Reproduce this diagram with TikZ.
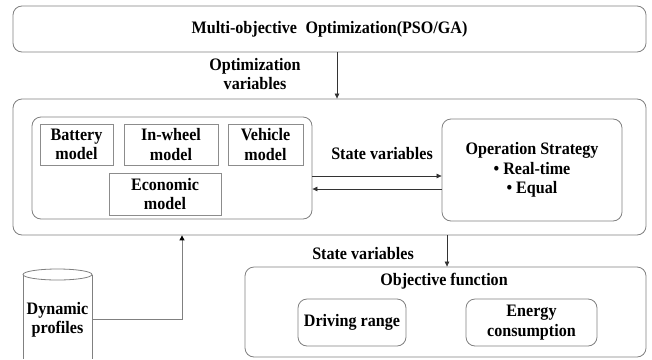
\documentclass[tikz,border=0pt]{standalone}
\usepackage{fontspec}
\setmainfont[FakeStretch=0.92]{Liberation Serif}
\usetikzlibrary{arrows.meta}
\begin{document}
\begin{tikzpicture}[x=1pt,y=-1pt,
  every node/.style={font=\fontsize{17.5}{19.5}\selectfont\bfseries, inner sep=0pt, align=center},
  rbox/.style={draw=black!50, line width=0.8pt, rounded corners=9pt},
  sbox/.style={draw=black!45, line width=0.8pt},
  arr/.style={draw=black!80, line width=0.7pt, -{Triangle[length=5pt,width=4.5pt]}},
  garr/.style={draw=black!50, line width=1pt, -{Triangle[length=5pt,width=5pt,fill=black,color=black]}}]
\useasboundingbox (0,0) rectangle (652,359);
\fill[white] (0,0) rectangle (652,359);
% boxes
\node[rbox, minimum width=633pt, minimum height=46pt] (top) at (329.5,29) {Multi-objective\hspace{0.25em} Optimization(PSO/GA)};
\node[rbox, minimum width=633pt, minimum height=136pt] (main) at (329.5,167) {};
\node[rbox, minimum width=280pt, minimum height=102pt] (models) at (172,168) {};
\node[sbox, minimum width=73pt, minimum height=41pt] (bat) at (76.5,144.5) {Battery\\model};
\node[sbox, minimum width=94pt, minimum height=41pt] (whl) at (171,144.5) {In-wheel\\model};
\node[sbox, minimum width=75pt, minimum height=41pt] (veh) at (265.5,144.5) {Vehicle\\model};
\node[sbox, minimum width=112pt, minimum height=42pt] (eco) at (165,194) {Economic\\model};
\node[rbox, minimum width=180pt, minimum height=102pt] (op) at (532,170) {};
\node (optxt) at (532,170) {Operation Strategy\\• Real-time\\• Equal};
\node[rbox, minimum width=401pt, minimum height=90pt] (obj) at (445.5,312) {};
\node (objtxt) at (444,281) {Objective function};
\node[rbox, minimum width=108pt, minimum height=47pt] (drv) at (352,322.5) {Driving range};
\node[rbox, minimum width=131pt, minimum height=47pt] (eng) at (531.5,322.5) {Energy\\consumption};
% labels
\node (optvar) at (255,74) {Optimization\\variables};
\node (st1) at (382,154) {State variables};
\node (st2) at (363,254) {State variables};
% cylinder
\draw[draw=black!50, line width=0.8pt] (23,274.5) -- (23,359) (92,274.5) -- (92,359);
\draw[draw=black!50, line width=0.8pt] (57.5,274.5) ellipse [x radius=34.5pt, y radius=5.5pt];
\node (dyn) at (57.5,320) {Dynamic\\profiles};
\coordinate (cylR) at (92,319);
% connectors
\draw[arr] (top.south -| 337,0) -- (main.north -| 337,0);
\coordinate (a1) at (0,176);
\coordinate (a2) at (0,189);
\draw[arr] (models.east |- a1) -- (op.west |- a1);
\draw[arr] (op.west |- a2) -- (models.east |- a2);
\draw[arr] (main.south -| 447,0) -- (obj.north -| 447,0);
\draw[garr] (cylR) -| (main.south -| 182,0);
\end{tikzpicture}
\end{document}
